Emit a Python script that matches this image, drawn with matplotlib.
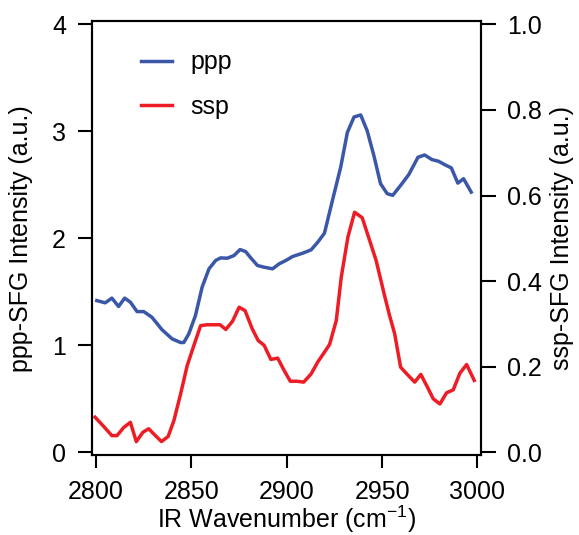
import matplotlib

matplotlib.use("Agg")

import matplotlib.pyplot as plt

plt.rcParams["font.family"] = ["Liberation Sans", "DejaVu Sans"]
plt.rcParams["font.size"] = 18
plt.rcParams["mathtext.fontset"] = "custom"
plt.rcParams["mathtext.rm"] = "Liberation Sans"
plt.rcParams["mathtext.default"] = "rm"

# ppp spectrum (left axis)
ppp_wavenumber = [
    2800.5, 2804.9, 2808.4, 2811.9, 2815.1, 2818.1, 2821.6, 2825.1, 2829.4, 2834.7,
    2840.0, 2844.4, 2846.1, 2848.7, 2852.2, 2855.7, 2859.3, 2862.8, 2865.4, 2868.9,
    2872.4, 2875.6, 2878.5, 2881.2, 2884.7, 2888.2, 2892.6, 2896.1, 2899.6, 2903.1,
    2908.4, 2912.8, 2916.3, 2919.8, 2924.0, 2928.3, 2931.8, 2935.3, 2938.8, 2942.2,
    2945.7, 2949.2, 2952.7, 2955.6, 2959.7, 2964.0, 2968.8, 2972.3, 2976.1, 2979.6,
    2983.1, 2986.3, 2989.7, 2992.7, 2996.7,
]
ppp_intensity = [
    1.418, 1.397, 1.441, 1.363, 1.441, 1.403, 1.315, 1.315, 1.262, 1.145,
    1.060, 1.026, 1.026, 1.107, 1.278, 1.544, 1.715, 1.793, 1.817, 1.814,
    1.839, 1.895, 1.876, 1.817, 1.746, 1.730, 1.715, 1.762, 1.793, 1.830,
    1.861, 1.892, 1.964, 2.048, 2.355, 2.664, 2.989, 3.134, 3.153, 3.005,
    2.773, 2.510, 2.417, 2.402, 2.494, 2.596, 2.757, 2.779, 2.736, 2.720,
    2.686, 2.658, 2.516, 2.557, 2.432,
]

# ssp spectrum (right axis)
ssp_wavenumber = [
    2799.6, 2804.0, 2808.4, 2811.1, 2814.6, 2818.1, 2821.2, 2824.7, 2827.7, 2831.2,
    2834.4, 2837.9, 2840.9, 2844.4, 2847.9, 2851.4, 2854.9, 2858.4, 2861.9, 2865.1,
    2868.1, 2871.6, 2875.1, 2878.2, 2882.0, 2885.1, 2888.2, 2891.7, 2895.3, 2898.7,
    2901.9, 2905.4, 2908.9, 2912.8, 2916.3, 2919.8, 2922.5, 2926.0, 2928.6, 2932.1,
    2935.6, 2939.6, 2942.9, 2946.9, 2951.3, 2953.9, 2956.6, 2959.7, 2963.2, 2967.1,
    2970.3, 2973.8, 2976.8, 2980.3, 2983.8, 2987.3, 2990.8, 2994.3, 2998.3,
]
ssp_intensity = [
    0.082, 0.061, 0.039, 0.039, 0.058, 0.070, 0.025, 0.047, 0.055, 0.039,
    0.025, 0.037, 0.074, 0.136, 0.203, 0.250, 0.296, 0.298, 0.298, 0.298,
    0.287, 0.306, 0.339, 0.331, 0.288, 0.261, 0.250, 0.217, 0.220, 0.191,
    0.166, 0.166, 0.164, 0.183, 0.211, 0.234, 0.252, 0.308, 0.409, 0.503,
    0.561, 0.548, 0.503, 0.448, 0.366, 0.320, 0.277, 0.199, 0.182, 0.164,
    0.182, 0.152, 0.125, 0.113, 0.139, 0.146, 0.185, 0.205, 0.168,
]

x_ticks = [2800, 2850, 2900, 2950, 3000]
left_ticks = [0, 1, 2, 3, 4]
right_ticks = [0.0, 0.2, 0.4, 0.6, 0.8, 1.0]

BLUE = "#3B57A7"
RED = "#EE1C25"

fig = plt.figure(figsize=(5.79, 5.35), dpi=100)
ax = fig.add_axes([0.1596, 0.1486, 0.672, 0.8125])
ax2 = ax.twinx()

line_ppp, = ax.plot(ppp_wavenumber, ppp_intensity, color=BLUE, linewidth=2.5, label="ppp")
line_ssp, = ax2.plot(ssp_wavenumber, ssp_intensity, color=RED, linewidth=2.5, label="ssp")

ax.set_xlim(2798.2, 3002.1)
ax.set_ylim(-0.03, 4.033)
ax2.set_ylim(-0.03 / 4, 4.033 / 4)

ax.set_xticks(x_ticks)
ax.set_yticks(left_ticks)
ax2.set_yticks(right_ticks)
ax2.set_yticklabels([f"{t:.1f}" for t in right_ticks])

ax.set_xlabel("IR Wavenumber (cm$^{-1}$)", labelpad=-1)
ax.set_ylabel("ppp-SFG Intensity (a.u.)", labelpad=14)
ax2.set_ylabel("ssp-SFG Intensity (a.u.)", labelpad=6)

for axis in (ax, ax2):
    for spine in axis.spines.values():
        spine.set_linewidth(1.5)
ax.tick_params(axis="x", direction="out", length=9, width=1.5, pad=9)
ax.tick_params(axis="y", direction="out", length=10, width=1.5, pad=9)
ax2.tick_params(axis="y", direction="out", length=10.5, width=1.5, pad=8)

ax.legend(
    handles=[line_ppp, line_ssp],
    loc="upper left",
    bbox_to_anchor=(0.066, 0.984),
    frameon=False,
    handlelength=1.25,
    handletextpad=0.75,
    labelspacing=0.81,
    fontsize=18,
)

fig.savefig("out.png", dpi=100)
